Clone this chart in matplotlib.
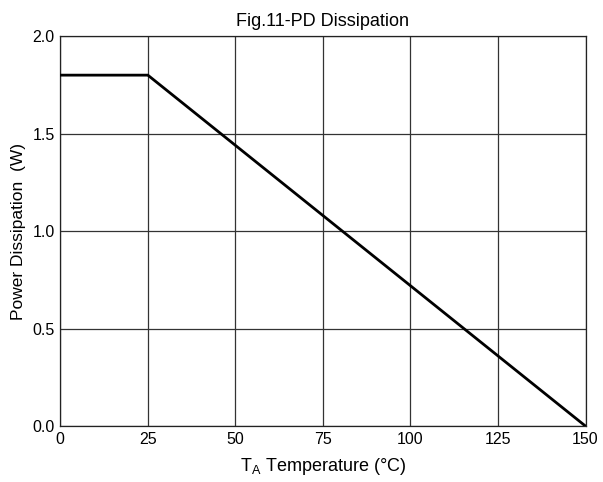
import matplotlib
matplotlib.use("Agg")
import matplotlib.pyplot as plt

plt.rcParams['font.family'] = ['Liberation Sans', 'DejaVu Sans']

# derating curve
temp_c = [0, 25, 150]
power_w = [1.8, 1.8, 0.0]

x_ticks = [0, 25, 50, 75, 100, 125, 150]
y_ticks = [0.0, 0.5, 1.0, 1.5, 2.0]

fig = plt.figure(figsize=(6.03, 4.82), dpi=100)
ax = fig.add_axes([0.1, 0.116, 0.871, 0.809])

ax.plot(temp_c, power_w, color='black', linewidth=2.0, zorder=3)

ax.set_xlim(0, 150)
ax.set_ylim(0, 2.0)
ax.set_xticks(x_ticks)
ax.set_yticks(y_ticks)
ax.set_yticklabels([f"{v:.1f}" for v in y_ticks])
ax.tick_params(length=0, labelsize=11.5, pad=4)
ax.grid(True, color='#333333', linewidth=0.9)
for s in ax.spines.values():
    s.set_linewidth(0.9)
    s.set_color('#222222')

ax.set_title("Fig.11-PD Dissipation", fontsize=13, pad=7)
ax.set_xlabel(r"T$_{\mathregular{A}}$ Temperature (°C)", fontsize=13, labelpad=7)
ax.set_ylabel("Power Dissipation  (W)", fontsize=12.5, labelpad=5)

fig.savefig("out.png", dpi=100)
